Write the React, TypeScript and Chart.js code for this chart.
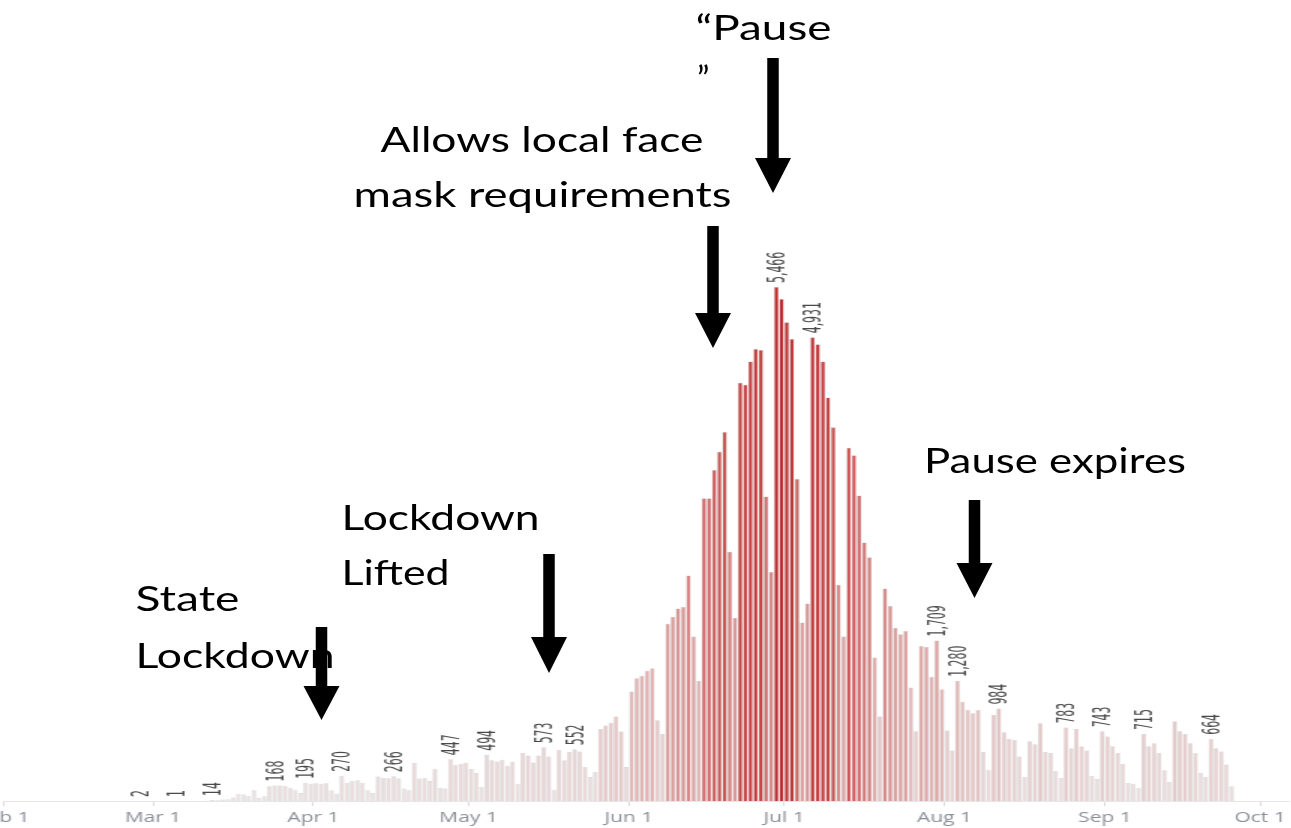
import React, { useEffect, useRef } from 'react';
import { Chart, registerables } from 'chart.js';

Chart.register(...registerables);

const DAY_MS = 86400000;
const AXIS_START = Date.UTC(2020, 1, 1); // Feb 1
const SERIES_START = Date.UTC(2020, 1, 27); // first bar: Feb 27

// Daily new cases, one value per day starting Feb 27
const dailyCases: number[] = [
  2, 0, 0, 0,
  0, 0, 0, 1, 0, 0, 0, 0, 3, 5,
  14, 10, 18, 22, 38, 80, 70, 53, 116, 35,
  53, 159, 168, 166, 165, 144, 123, 88, 195, 186,
  192, 186, 190, 116, 80, 270, 195, 215, 222, 195,
  116, 88, 262, 250, 244, 266, 245, 134, 116, 407,
  240, 250, 215, 345, 144, 134, 447, 387, 398, 408,
  342, 299, 151, 494, 434, 423, 440, 377, 419, 186,
  511, 487, 412, 487, 573, 476, 123, 545, 434, 522,
  552, 529, 363, 257, 310, 768, 804, 835, 899, 741,
  363, 1167, 1308, 1333, 1386, 1413, 860, 715, 1886, 1960,
  2048, 2063, 2400, 1750, 1280, 3220, 3220, 3519, 3714, 3925,
  2650, 1950, 4447, 4426, 4672, 4807, 4796, 3238, 2437, 5466,
  5336, 5089, 4912, 3424, 1900, 2100, 4931, 4856, 4672, 4291,
  3974, 2300, 1750, 3756, 3678, 3250, 2750, 2592, 1527, 899,
  2260, 2074, 1844, 1773, 1809, 1209, 744, 1650, 1640, 1322,
  1709, 1191, 751, 540, 1280, 1058, 969, 934, 969, 522,
  334, 916, 984, 733, 662, 652, 476, 257, 638, 605,
  828, 522, 511, 321, 250, 783, 564, 768, 585, 540,
  268, 236, 743, 688, 585, 511, 398, 194, 186, 141,
  715, 585, 617, 511, 328, 204, 850, 744, 715, 617,
  511, 299, 257, 664, 564, 529, 391, 159,
];

// Days whose bars carry a value label ([month index, day])
const labeledDates: [number, number][] = [
  [1, 27], [2, 5], [2, 12], [2, 24], [2, 30], [3, 6], [3, 16], [3, 27],
  [4, 4], [4, 15], [4, 21], [5, 29], [6, 6], [6, 30], [7, 3], [7, 11],
  [7, 24], [7, 31], [8, 8], [8, 21],
];

// X axis ticks (month starts)
const tickMonths: number[] = [1, 2, 3, 4, 5, 6, 7, 8, 9];
const tickLabels: string[] = ['Feb 1', 'Mar 1', 'Apr 1', 'May 1', 'Jun 1', 'Jul 1', 'Aug 1', 'Sep 1', 'Oct 1'];

const dayOf = (ms: number) => Math.round((ms - AXIS_START) / DAY_MS);
const seriesOffset = dayOf(SERIES_START);
const tickDays = tickMonths.map((m) => dayOf(Date.UTC(2020, m, 1)));
const labeledIndices = labeledDates.map(([m, d]) => dayOf(Date.UTC(2020, m, d)) - seriesOffset);
const maxCases = Math.max(...dailyCases);

const colorStops: [number, number[]][] = [
  [0, [234, 228, 228]],
  [0.1, [232, 212, 212]],
  [0.25, [225, 178, 178]],
  [0.45, [214, 132, 132]],
  [0.65, [204, 92, 92]],
  [0.85, [195, 60, 60]],
  [1, [188, 40, 42]],
];

function colorFor(v: number): string {
  const f = Math.max(0, Math.min(1, v / maxCases));
  for (let i = 1; i < colorStops.length; i++) {
    const [p1, c1] = colorStops[i];
    const [p0, c0] = colorStops[i - 1];
    if (f <= p1) {
      const k = (f - p0) / (p1 - p0);
      const c = c0.map((a, j) => Math.round(a + (c1[j] - a) * k));
      return `rgb(${c[0]},${c[1]},${c[2]})`;
    }
  }
  return 'rgb(188,40,42)';
}

const annotationLines = [
  { text: '\u201CPause', x: 695.5, y: 40, len: 136 },
  { text: '\u201D', x: 697, y: 91, len: 0 },
  { text: 'Allows local face', x: 380.5, y: 152, len: 323 },
  { text: 'mask requirements', x: 353.5, y: 207, len: 378 },
  { text: 'Pause expires', x: 924, y: 473, len: 262 },
  { text: 'Lockdown', x: 341.5, y: 530, len: 198 },
  { text: 'Lifted', x: 341.5, y: 585, len: 108 },
  { text: 'State', x: 135.5, y: 611, len: 104 },
  { text: 'Lockdown', x: 135.5, y: 668, len: 199 },
];

const arrows = [
  { cx: 773, top: 58, headTop: 158, tip: 193 },
  { cx: 713, top: 226, headTop: 313, tip: 348 },
  { cx: 974.5, top: 500, headTop: 563, tip: 598 },
  { cx: 549, top: 554, headTop: 637, tip: 673 },
  { cx: 321.5, top: 627, headTop: 686, tip: 720 },
];

const STRETCH = 1.5;

const valueLabelPlugin = {
  id: 'valueLabels',
  afterDatasetsDraw(chart: any) {
    const meta = chart.getDatasetMeta(0);
    const ctx = chart.ctx as CanvasRenderingContext2D;
    ctx.save();
    ctx.font = '16px "Liberation Sans Narrow", "DejaVu Sans Condensed", "Arial Narrow", sans-serif';
    const digitW = ctx.measureText('0').width || 6.8;
    const along = 6.9 / digitW;
    ctx.fillStyle = '#4a4a4a';
    ctx.textAlign = 'left';
    ctx.textBaseline = 'alphabetic';
    labeledIndices.forEach((i) => {
      const el = meta.data[i];
      if (!el) return;
      const v = dailyCases[i];
      ctx.save();
      ctx.translate(el.x + 5.6, el.y - 4);
      ctx.rotate(-Math.PI / 2);
      ctx.scale(along, 1);
      ctx.fillText(v.toLocaleString('en-US'), 0, 0);
      ctx.restore();
    });
    ctx.restore();
  },
};

export default function App() {
  const canvasRef = useRef<HTMLCanvasElement | null>(null);

  useEffect(() => {
    if (!canvasRef.current) return;
    const points = dailyCases.map((y, i) => ({ x: seriesOffset + i + 0.5, y }));
    const chart = new Chart(canvasRef.current, {
      type: 'bar',
      data: {
        datasets: [
          {
            data: points as any,
            backgroundColor: (c: any) => colorFor(c.raw ? c.raw.y : 0),
            borderColor: 'rgba(196,196,196,0.9)',
            borderWidth: 0.5,
            borderSkipped: 'start',
            barPercentage: 0.9,
            categoryPercentage: 1,
          },
        ],
      },
      options: {
        responsive: false,
        animation: false,
        devicePixelRatio: 1,
        layout: { padding: { left: 30, right: 8, top: 0, bottom: 1 } },
        plugins: { legend: { display: false }, tooltip: { enabled: false } },
        scales: {
          x: {
            type: 'linear',
            min: 0,
            max: 248.5,
            offset: false,
            bounds: 'data',
            afterBuildTicks: (axis: any) => {
              axis.ticks = tickDays.map((v) => ({ value: v }));
            },
            ticks: {
              autoSkip: false,
              maxRotation: 0,
              minRotation: 0,
              padding: 3,
              color: '#8c8f99',
              font: { family: '"Open Sans", sans-serif', size: 14 },
              callback: (_v: any, i: number) => tickLabels[i] ?? '',
            },
            grid: { display: true, drawOnChartArea: false, drawTicks: true, tickLength: 5, color: '#dcdcdc', offset: false },
            border: { display: true, color: '#e6e6e6' },
          },
          y: { display: false, min: 0, max: 8515 },
        },
      } as any,
      plugins: [valueLabelPlugin],
    });
    return () => chart.destroy();
  }, []);

  return (
    <div style={{ position: 'fixed', left: 0, top: 0, width: 1291, height: 828, overflow: 'hidden', background: '#ffffff' }}>
      <canvas
        ref={canvasRef}
        width={895}
        height={830}
        style={{
          position: 'absolute',
          left: -42,
          top: 0,
          width: '895px',
          height: '830px',
          transform: `scaleX(${STRETCH})`,
          transformOrigin: '0 0',
        }}
      />
      <svg width={1291} height={828} style={{ position: 'absolute', left: 0, top: 0, pointerEvents: 'none' }}>
        {annotationLines.map((l, i) => (
          <text
            key={i}
            x={l.x}
            y={l.y}
            fontFamily="Lato, 'Open Sans', sans-serif"
            fontSize={34}
            fill="#000"
            {...(l.len ? { textLength: l.len, lengthAdjust: 'spacingAndGlyphs' } : {})}
          >
            {l.text}
          </text>
        ))}
        {arrows.map((a, i) => (
          <polygon
            key={'a' + i}
            fill="#000"
            points={[
              [a.cx - 5.75, a.top],
              [a.cx + 5.75, a.top],
              [a.cx + 5.75, a.headTop],
              [a.cx + 18, a.headTop],
              [a.cx, a.tip],
              [a.cx - 18, a.headTop],
              [a.cx - 5.75, a.headTop],
            ]
              .map((p) => p.join(','))
              .join(' ')}
          />
        ))}
      </svg>
    </div>
  );
}
